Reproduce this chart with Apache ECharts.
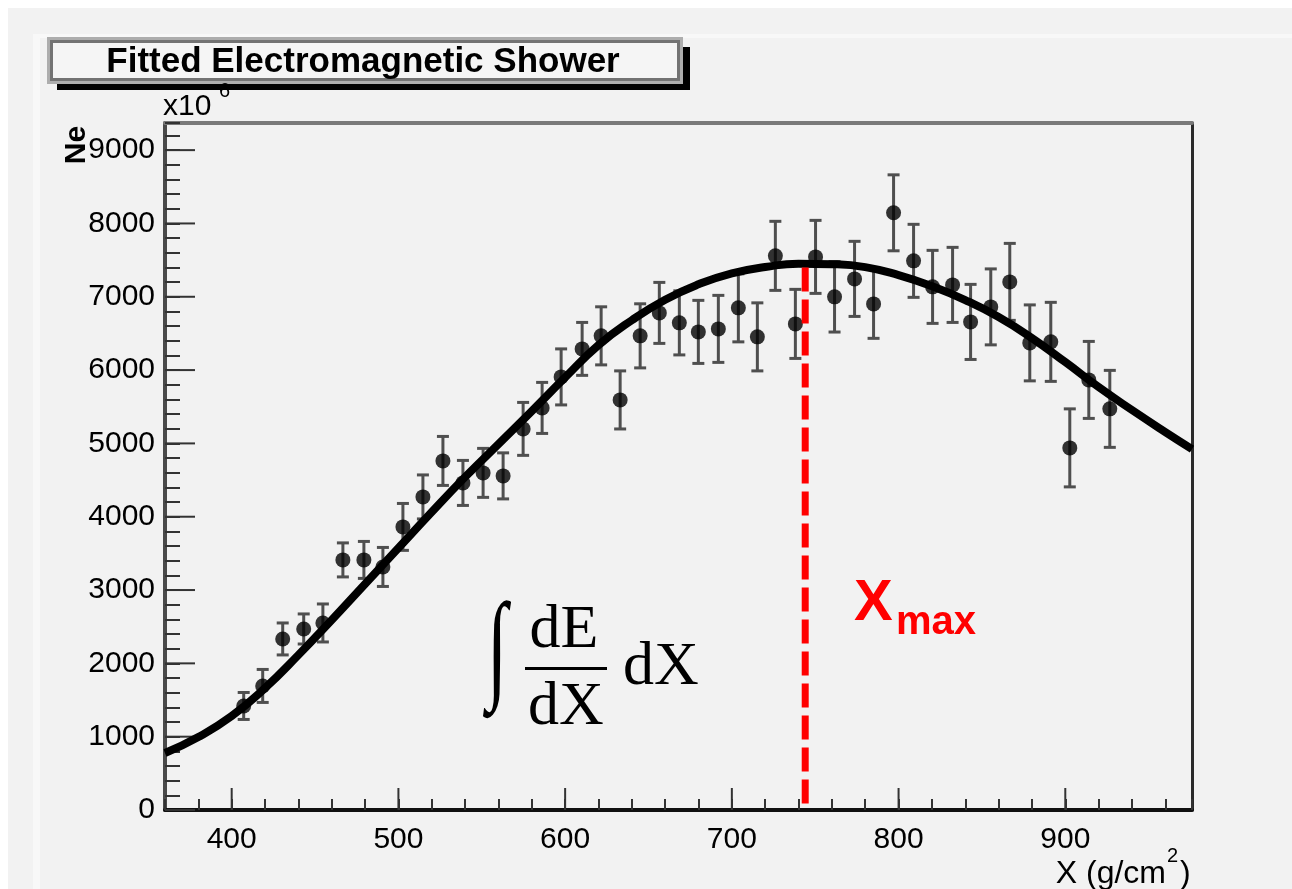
<!DOCTYPE html>
<html>
<head>
<meta charset="utf-8">
<title>Fitted Electromagnetic Shower</title>
<script src="https://cdn.jsdelivr.net/npm/echarts@6/dist/echarts.min.js"></script>
<style>
  html, body { margin: 0; padding: 0; background: #ffffff; }
  #chart { width: 1292px; height: 889px; }
</style>
</head>
<body>
<div id="chart"></div>
<script>
// Slant depth of each measured bin (g/cm^2)
const depth = [407.2, 418.6, 430.6, 443.2, 454.7, 466.7, 479.3, 490.7, 502.7, 514.7,
               526.7, 538.7, 550.8, 562.8, 574.8, 586.2, 597.6, 610.2, 621.6, 633.0,
               645.0, 656.5, 668.5, 679.9, 691.9, 703.9, 715.3, 726.1, 738.1, 750.2,
               761.6, 773.6, 785.0, 797.0, 809.0, 820.4, 832.4, 843.2, 855.3, 866.7,
               878.7, 891.3, 902.7, 914.1, 926.7];
// Number of shower electrons (units of 10^6)
const electrons = [1419, 1692, 2333, 2469, 2551, 3411, 3411, 3315, 3861, 4270,
                   4761, 4461, 4598, 4557, 5198, 5484, 5907, 6289, 6467, 5593,
                   6467, 6780, 6644, 6521, 6562, 6849, 6453, 7558, 6630, 7544,
                   6999, 7244, 6903, 8145, 7490, 7135, 7162, 6657, 6862, 7203,
                   6371, 6385, 4939, 5866, 5471];
// Statistical uncertainty of each bin (units of 10^6)
const errors = [184, 225, 218, 205, 259, 232, 252, 266, 320, 300,
                334, 307, 334, 314, 361, 348, 382, 361, 396, 396,
                437, 416, 437, 430, 457, 464, 464, 471, 471, 498,
                480, 512, 470, 518, 498, 498, 512, 512, 518, 525,
                518, 539, 532, 525, 525];

// Gaisser-Hillas fit, every 20 g/cm^2
const fitDepth = [360, 380, 400, 420, 440, 460, 480, 500, 520, 540,
                  560, 580, 600, 620, 640, 660, 680, 700, 720, 740,
                  760, 780, 800, 820, 840, 860, 880, 900, 920, 940,
                  960, 976];
const fitElectrons = [777, 995, 1282, 1664, 2114, 2591, 3082, 3573, 4064, 4541,
                      4991, 5441, 5900, 6340, 6680, 6960, 7170, 7320, 7405, 7452,
                      7445, 7405, 7295, 7145, 6955, 6723, 6436, 6109, 5768, 5455,
                      5155, 4923];

// Shower maximum and the height of the marker line
const xmaxDepth = 744;
const xmaxLineTop = 7400;

// Axis ranges and labelled ticks
const xMin = 360, xMax = 976, xMinorStep = 20;
const yMin = 0, yMax = 9370, yMinorStep = 200;
const xTickLabels = [400, 500, 600, 700, 800, 900];
const yTickLabels = [0, 1000, 2000, 3000, 4000, 5000, 6000, 7000, 8000, 9000];

const chart = echarts.init(document.getElementById('chart'), null, { renderer: 'canvas' });

const SANS = "'Liberation Sans', Arial, Helvetica, sans-serif";
const SERIF = "'Liberation Serif', 'Times New Roman', serif";
const TICK = '#333333';

function majorTick(dir, len) {
  return function (params, api) {
    const p = api.coord([api.value(0), api.value(1)]);
    const shape = dir === 'x'
      ? { x1: p[0], y1: p[1], x2: p[0], y2: p[1] - len }
      : { x1: p[0], y1: p[1], x2: p[0] + len, y2: p[1] };
    return { type: 'line', shape: shape, style: { stroke: TICK, lineWidth: 2 } };
  };
}

const option = {
  backgroundColor: '#f2f2f2',
  animation: false,
  grid: { left: 165, right: 100, top: 123, bottom: 79, containLabel: false },
  xAxis: [{
    type: 'value', min: xMin, max: xMax, interval: xMinorStep,
    axisLine: { show: true, onZero: false, lineStyle: { color: '#111111', width: 4 } },
    axisTick: { show: true, inside: true, length: 11, lineStyle: { color: TICK, width: 2 } },
    axisLabel: {
      margin: 15, color: '#000', fontFamily: SANS, fontSize: 30,
      formatter: v => (xTickLabels.indexOf(v) >= 0 ? String(v) : '')
    },
    splitLine: { show: false }
  }, {
    type: 'value', position: 'top', min: xMin, max: xMax,
    axisLine: { show: true, onZero: false, lineStyle: { color: '#7a7a7a', width: 4 } },
    axisTick: { show: false }, axisLabel: { show: false }, splitLine: { show: false }
  }],
  yAxis: [{
    type: 'value', min: yMin, max: yMax, interval: yMinorStep,
    axisLine: { show: true, onZero: false, lineStyle: { color: '#4a4a4a', width: 4 } },
    axisTick: { show: true, inside: true, length: 15, lineStyle: { color: TICK, width: 2 } },
    axisLabel: {
      margin: 10, color: '#000', fontFamily: SANS, fontSize: 30,
      formatter: v => (yTickLabels.indexOf(v) >= 0 ? String(v) : '')
    },
    splitLine: { show: false }
  }, {
    type: 'value', position: 'right', min: yMin, max: yMax,
    axisLine: { show: true, onZero: false, lineStyle: { color: '#2a2a2a', width: 3 } },
    axisTick: { show: false }, axisLabel: { show: false }, splitLine: { show: false }
  }],
  series: [
    {
      // long ticks at the labelled depths
      type: 'custom', silent: true, z: 1,
      renderItem: majorTick('x', 22),
      data: xTickLabels.map(v => [v, yMin])
    },
    {
      // long ticks at the labelled electron counts
      type: 'custom', silent: true, z: 1,
      renderItem: majorTick('y', 30),
      data: yTickLabels.map(v => [xMin, v])
    },
    {
      // error bars with end caps
      type: 'custom', silent: true, z: 2,
      renderItem: function (params, api) {
        const x = api.value(0), y = api.value(1), e = api.value(2);
        const top = api.coord([x, y + e]);
        const bot = api.coord([x, y - e]);
        const w = 6;
        const st = { stroke: '#4f4f4f', lineWidth: 3 };
        return {
          type: 'group', children: [
            { type: 'line', shape: { x1: top[0], y1: top[1], x2: bot[0], y2: bot[1] }, style: st },
            { type: 'line', shape: { x1: top[0] - w, y1: top[1], x2: top[0] + w, y2: top[1] }, style: st },
            { type: 'line', shape: { x1: bot[0] - w, y1: bot[1], x2: bot[0] + w, y2: bot[1] }, style: st }
          ]
        };
      },
      data: depth.map((d, i) => [d, electrons[i], errors[i]])
    },
    {
      type: 'scatter', z: 3, symbol: 'circle', symbolSize: 15,
      itemStyle: { color: '#000000' },
      data: depth.map((d, i) => [d, electrons[i]])
    },
    {
      type: 'line', z: 4, smooth: 0.5, showSymbol: false, symbol: 'none',
      lineStyle: { color: '#000000', width: 8 },
      data: fitDepth.map((d, i) => [d, fitElectrons[i]])
    },
    {
      type: 'line', z: 5, showSymbol: false, symbol: 'none',
      lineStyle: { color: '#ff0000', width: 7, type: [24, 8], cap: 'butt' },
      data: [[xmaxDepth, xmaxLineTop], [xmaxDepth, yMin]]
    }
  ],
  graphic: [
    // white margin along the top and left edges
    { type: 'rect', z: 0, shape: { x: 0, y: 0, width: 1292, height: 8 }, style: { fill: '#ffffff' } },
    { type: 'rect', z: 0, shape: { x: 0, y: 0, width: 8, height: 889 }, style: { fill: '#ffffff' } },
    // light pad border
    { type: 'rect', z: 0, shape: { x: 33, y: 34, width: 7, height: 855 }, style: { fill: '#f8f8f8' } },
    { type: 'rect', z: 0, shape: { x: 33, y: 34, width: 1259, height: 4 }, style: { fill: '#f8f8f8' } },
    // title box with drop shadow
    { type: 'rect', z: 10, shape: { x: 57, y: 47, width: 633, height: 43 }, style: { fill: '#000000' } },
    { type: 'rect', z: 11, shape: { x: 47, y: 37, width: 636, height: 47 }, style: { fill: '#adadad' } },
    { type: 'rect', z: 12, shape: { x: 50, y: 40, width: 630, height: 41 }, style: { fill: '#737373' } },
    { type: 'rect', z: 13, shape: { x: 53, y: 43, width: 624, height: 35 }, style: { fill: '#f5f5f5' } },
    {
      type: 'text', z: 14, x: 363, y: 62,
      style: { text: 'Fitted Electromagnetic Shower', fill: '#000', font: "bold 35px " + SANS,
               align: 'center', verticalAlign: 'middle' }
    },
    // axis scale factor
    {
      type: 'text', z: 14, x: 163, y: 107,
      style: { text: 'x10', fill: '#000', font: "30px " + SANS, align: 'left', verticalAlign: 'middle' }
    },
    {
      type: 'text', z: 14, x: 219, y: 91,
      style: { text: '6', fill: '#000', font: "20px " + SANS, align: 'left', verticalAlign: 'middle' }
    },
    // axis titles
    {
      type: 'text', z: 14, x: 77, y: 145, rotation: Math.PI / 2,
      style: { text: 'Ne', fill: '#000', font: "bold 30px " + SANS, align: 'center', verticalAlign: 'middle' }
    },
    {
      type: 'text', z: 14, x: 1166, y: 874,
      style: { text: 'X (g/cm', fill: '#000', font: "32px " + SANS, align: 'right', verticalAlign: 'middle' }
    },
    {
      type: 'text', z: 14, x: 1167, y: 856,
      style: { text: '2', fill: '#000', font: "20px " + SANS, align: 'left', verticalAlign: 'middle' }
    },
    {
      type: 'text', z: 14, x: 1180, y: 874,
      style: { text: ')', fill: '#000', font: "32px " + SANS, align: 'left', verticalAlign: 'middle' }
    },
    // longitudinal energy deposit formula
    {
      type: 'text', z: 14, x: 497, y: 654, scaleX: 0.62,
      style: { text: '\u222B', fill: '#000', font: "120px " + SERIF, align: 'center', verticalAlign: 'middle' }
    },
    {
      type: 'text', z: 14, x: 564, y: 631,
      style: { text: 'dE', fill: '#000', font: "62px " + SERIF, align: 'center', verticalAlign: 'middle' }
    },
    { type: 'rect', z: 14, shape: { x: 525, y: 667, width: 82, height: 3 }, style: { fill: '#000' } },
    {
      type: 'text', z: 14, x: 566, y: 708,
      style: { text: 'dX', fill: '#000', font: "62px " + SERIF, align: 'center', verticalAlign: 'middle' }
    },
    {
      type: 'text', z: 14, x: 661, y: 668,
      style: { text: 'dX', fill: '#000', font: "62px " + SERIF, align: 'center', verticalAlign: 'middle' }
    },
    // shower maximum label
    {
      type: 'text', z: 14, x: 854, y: 604,
      style: { text: 'X', fill: '#ff0000', font: "bold 58px " + SANS, align: 'left', verticalAlign: 'middle' }
    },
    {
      type: 'text', z: 14, x: 896, y: 623,
      style: { text: 'max', fill: '#ff0000', font: "bold 40px " + SANS, align: 'left', verticalAlign: 'middle' }
    }
  ]
};

chart.setOption(option);
</script>
</body>
</html>
